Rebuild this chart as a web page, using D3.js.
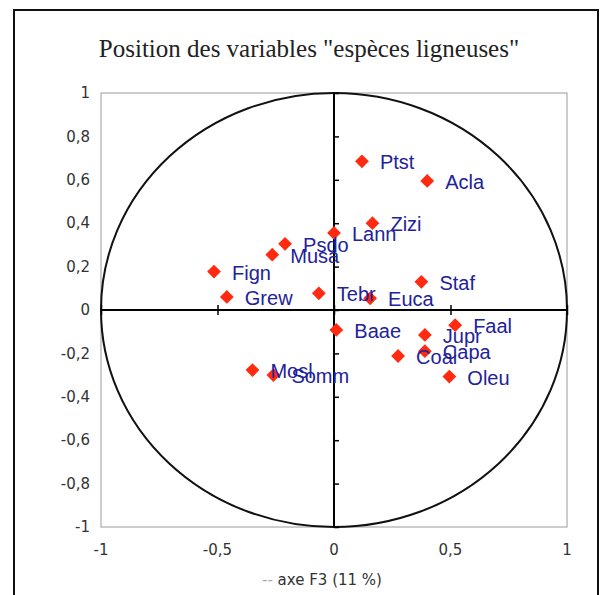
<!DOCTYPE html>
<html>
<head>
<meta charset="utf-8">
<script src="https://cdn.jsdelivr.net/npm/d3@7"></script>
<style>
body { margin: 0; background: #fff; }
svg { display: block; }
</style>
</head>
<body>
<svg width="603" height="595"></svg>
<script>
// coordonnees des variables (axe F3 en x, autre axe en y)
var names = ["Ptst", "Acla", "Zizi", "Lann", "Psdo", "Musa", "Fign", "Grew", "Tebr", "Euca", "Staf",
             "Baae", "Faal", "Jupr", "Capa", "Coal", "Oleu", "Mosl", "Somm"];
var xs = [0.12, 0.40, 0.165, 0.0, -0.21, -0.265, -0.515, -0.46, -0.065, 0.155, 0.375,
          0.01, 0.52, 0.39, 0.39, 0.275, 0.495, -0.35, -0.26];
var ys = [0.685, 0.595, 0.40, 0.355, 0.305, 0.255, 0.177, 0.06, 0.077, 0.054, 0.13,
          -0.092, -0.07, -0.115, -0.19, -0.212, -0.307, -0.277, -0.30];
var yTicks = [1, 0.8, 0.6, 0.4, 0.2, 0, -0.2, -0.4, -0.6, -0.8, -1];
var xTicks = [-1, -0.5, 0, 0.5, 1];

var svg = d3.select("svg"),
    margin = {top: 93, right: 36, bottom: 68, left: 101},
    width = +svg.attr("width") - margin.left - margin.right,
    height = +svg.attr("height") - margin.top - margin.bottom;

var fmt = function(d) { return String(d).replace(".", ","); };

// cadre exterieur
svg.append("rect")
    .attr("x", 14).attr("y", 10)
    .attr("width", 584).attr("height", 600)
    .attr("fill", "none")
    .attr("stroke", "#111")
    .attr("stroke-width", 2);

svg.append("text")
    .attr("x", 309).attr("y", 57)
    .attr("text-anchor", "middle")
    .style("font-family", "'Liberation Serif', 'DejaVu Serif', serif")
    .style("font-size", "25px")
    .attr("fill", "#222")
    .text("Position des variables \"espèces ligneuses\"");

var x = d3.scaleLinear().domain([-1, 1]).range([0, width]);
var y = d3.scaleLinear().domain([-1, 1]).range([height, 0]);

var g = svg.append("g").attr("transform", "translate(" + margin.left + "," + margin.top + ")");

g.append("rect")
    .attr("width", width).attr("height", height)
    .attr("fill", "none")
    .attr("stroke", "#9a9a9a")
    .attr("stroke-width", 1);

// cercle des correlations
g.append("ellipse")
    .attr("cx", x(0)).attr("cy", y(0))
    .attr("rx", x(1) - x(0)).attr("ry", y(0) - y(1))
    .attr("fill", "none")
    .attr("stroke", "#111")
    .attr("stroke-width", 2);

// axes au centre
g.append("g")
    .attr("transform", "translate(0," + y(0) + ")")
    .call(d3.axisBottom(x).tickValues(xTicks).tickSize(5).tickFormat(""))
    .call(function(a) { a.select(".domain").attr("d", "M0,0H" + width).attr("stroke-width", 2); })
    .call(function(a) { a.selectAll(".tick line").attr("y1", -5).attr("stroke-width", 1.5); });

g.append("g")
    .attr("transform", "translate(" + x(0) + ",0)")
    .call(d3.axisLeft(y).tickValues(yTicks).tickSize(5).tickFormat(""))
    .call(function(a) { a.select(".domain").attr("d", "M0,0V" + height).attr("stroke-width", 2); })
    .call(function(a) { a.selectAll(".tick line").attr("x2", 5).attr("stroke-width", 1.5); });

// etiquettes des graduations
g.selectAll(".ylab").data(yTicks).enter().append("text")
    .attr("class", "ylab")
    .attr("x", -11).attr("y", function(d) { return y(d); })
    .attr("dy", "0.35em")
    .attr("text-anchor", "end")
    .style("font-family", "'DejaVu Sans', sans-serif")
    .style("font-size", "15px")
    .attr("fill", "#333")
    .text(fmt);

g.selectAll(".xlab").data(xTicks).enter().append("text")
    .attr("class", "xlab")
    .attr("x", function(d) { return x(d); }).attr("y", height + 28)
    .attr("text-anchor", "middle")
    .style("font-family", "'DejaVu Sans', sans-serif")
    .style("font-size", "15px")
    .attr("fill", "#333")
    .text(fmt);

var xt = g.append("text")
    .attr("x", x(0) - 12).attr("y", height + 58)
    .attr("text-anchor", "middle")
    .style("font-family", "'DejaVu Sans', sans-serif")
    .style("font-size", "15px")
    .attr("fill", "#333");
xt.append("tspan").attr("fill", "#aaa").text("-- ");
xt.append("tspan").text("axe F3 (11 %)");

// points
var pts = names.map(function(n, i) { return {name: n, x: xs[i], y: ys[i]}; });

g.selectAll(".pt").data(pts).enter().append("path")
    .attr("class", "pt")
    .attr("d", d3.symbol().type(d3.symbolSquare).size(95))
    .attr("transform", function(d) { return "translate(" + x(d.x) + "," + y(d.y) + ") rotate(45)"; })
    .attr("fill", "#ff2a10");

g.selectAll(".lab").data(pts).enter().append("text")
    .attr("class", "lab")
    .attr("x", function(d) { return x(d.x) + 18; })
    .attr("y", function(d) { return y(d.y); })
    .attr("dy", "0.4em")
    .style("font-family", "'Liberation Sans', Arial, sans-serif")
    .style("font-size", "20px")
    .attr("fill", "#22229a")
    .text(function(d) { return d.name; });
</script>
</body>
</html>
